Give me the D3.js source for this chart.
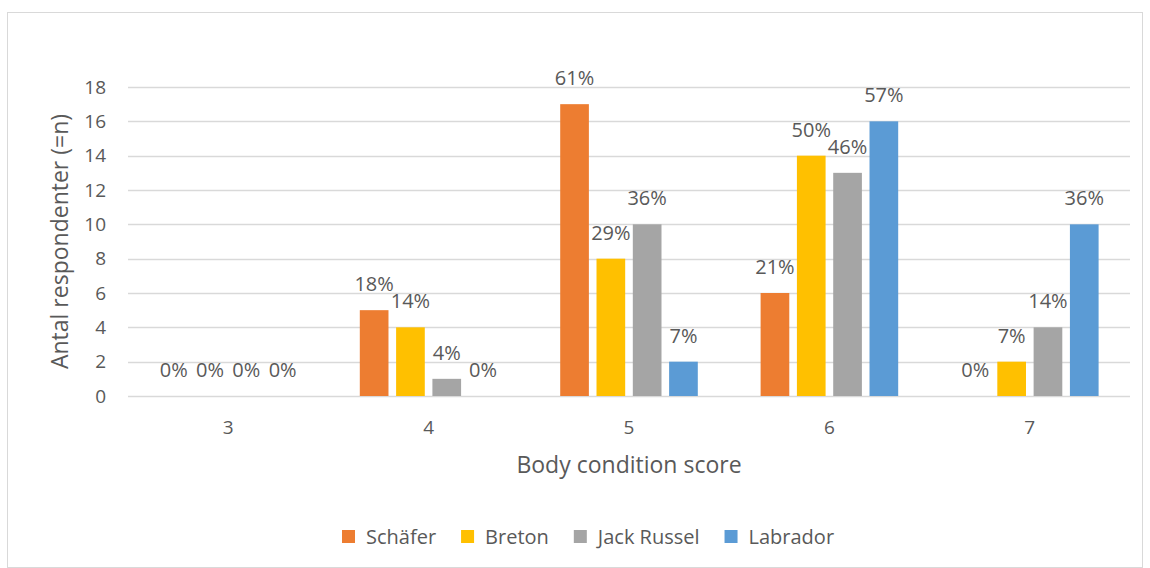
<!DOCTYPE html>
<html>
<head>
<meta charset="utf-8">
<script src="https://cdn.jsdelivr.net/npm/d3@7"></script>
<style>
  body { margin: 0; background: #fff; }
  svg text { font-family: "Open Sans", sans-serif; fill: #595959; }
</style>
</head>
<body>
<div class="chart"></div>
<script>
  // body condition score groups
  var categories = ["3", "4", "5", "6", "7"];
  var seriesNames = ["Schäfer", "Breton", "Jack Russel", "Labrador"];
  var colors = ["#ED7D31", "#FFC000", "#A5A5A5", "#5B9BD5"];

  // antal respondenter per ras
  var schafer = [0, 5, 17, 6, 0];
  var breton = [0, 4, 8, 14, 2];
  var jackRussel = [0, 1, 10, 13, 4];
  var labrador = [0, 0, 2, 16, 10];

  // procent-etiketter
  var schaferPct = ["0%", "18%", "61%", "21%", "0%"];
  var bretonPct = ["0%", "14%", "29%", "50%", "7%"];
  var jackRusselPct = ["0%", "4%", "36%", "46%", "14%"];
  var labradorPct = ["0%", "0%", "7%", "57%", "36%"];

  var yTicks = [0, 2, 4, 6, 8, 10, 12, 14, 16, 18];

  var values = [schafer, breton, jackRussel, labrador];
  var pcts = [schaferPct, bretonPct, jackRusselPct, labradorPct];

  var width = 1150, height = 568;
  var svg = d3.select(".chart").append("svg")
    .attr("width", width)
    .attr("height", height);

  svg.append("rect")
    .attr("x", 7.5).attr("y", 12.5)
    .attr("width", 1135).attr("height", 555)
    .attr("fill", "#fff")
    .attr("stroke", "#d9d9d9");

  var x = d3.scaleBand().domain(categories).range([128, 1130]);
  var xs = d3.scaleBand().domain(seriesNames).range([0, x.bandwidth()])
    .paddingInner(0.21).paddingOuter(0.865);
  var y = d3.scaleLinear().domain([0, 18]).range([396, 87]);

  // gridlines
  svg.append("g").selectAll("line")
    .data(yTicks)
    .enter().append("line")
    .attr("x1", 128).attr("x2", 1130)
    .attr("y1", function(d) { return Math.round(y(d)) + 0.5; })
    .attr("y2", function(d) { return Math.round(y(d)) + 0.5; })
    .attr("stroke", "#d9d9d9")
    .attr("stroke-width", 1.3);

  // y tick labels
  svg.append("g").selectAll("text")
    .data(yTicks)
    .enter().append("text")
    .attr("x", 106)
    .attr("y", function(d) { return y(d) + 6.5; })
    .attr("text-anchor", "end")
    .style("font-size", "19px")
    .text(function(d) { return d; });

  // x tick labels
  svg.append("g").selectAll("text")
    .data(categories)
    .enter().append("text")
    .attr("x", function(d) { return x(d) + x.bandwidth() / 2; })
    .attr("y", 434)
    .attr("text-anchor", "middle")
    .style("font-size", "19px")
    .text(function(d) { return d; });

  // bars + labels
  var rows = [];
  seriesNames.forEach(function(s, i) {
    categories.forEach(function(c, j) {
      rows.push({ s: s, i: i, c: c, v: values[i][j], p: pcts[i][j] });
    });
  });

  svg.append("g").selectAll("rect")
    .data(rows)
    .enter().append("rect")
    .attr("x", function(d) { return x(d.c) + xs(d.s); })
    .attr("y", function(d) { return y(d.v); })
    .attr("width", xs.bandwidth())
    .attr("height", function(d) { return y(0) - y(d.v); })
    .attr("fill", function(d) { return colors[d.i]; });

  svg.append("g").selectAll("text")
    .data(rows)
    .enter().append("text")
    .attr("x", function(d) { return x(d.c) + xs(d.s) + xs.bandwidth() / 2; })
    .attr("y", function(d) { return y(d.v) - 19; })
    .attr("text-anchor", "middle")
    .style("font-size", "20px")
    .text(function(d) { return d.p; });

  // axis titles
  svg.append("text")
    .attr("transform", "translate(68," + (y(9)) + ") rotate(-90)")
    .attr("text-anchor", "middle")
    .style("font-size", "23px")
    .text("Antal respondenter (=n)");

  svg.append("text")
    .attr("x", 629).attr("y", 473)
    .attr("text-anchor", "middle")
    .style("font-size", "23px")
    .text("Body condition score");

  // legend
  var legend = svg.append("g");
  var lx = 342;
  seriesNames.forEach(function(s, i) {
    legend.append("rect")
      .attr("x", lx).attr("y", 530)
      .attr("width", 13).attr("height", 13)
      .attr("fill", colors[i]);
    var t = legend.append("text")
      .attr("x", lx + 24).attr("y", 543.5)
      .style("font-size", "20px")
      .text(s);
    lx = lx + 24 + t.node().getComputedTextLength() + 25;
  });
</script>
</body>
</html>
